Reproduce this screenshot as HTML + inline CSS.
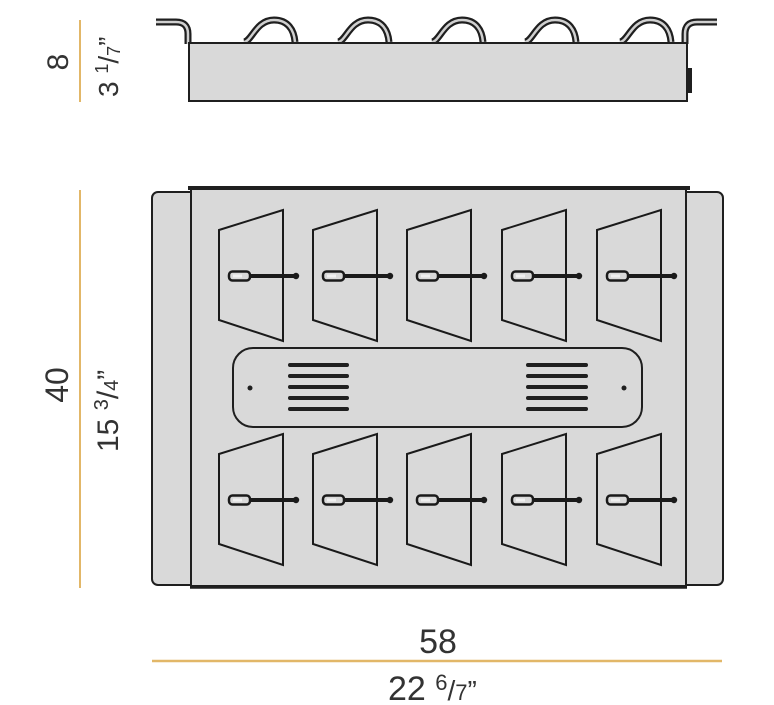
<!DOCTYPE html>
<html><head><meta charset="utf-8"><style>
html,body{margin:0;padding:0;background:#fff;width:774px;height:705px;overflow:hidden}
svg{display:block}
text{font-family:"Liberation Sans",sans-serif;fill:#333}
</style></head><body>
<svg width="774" height="705" viewBox="0 0 774 705" xmlns="http://www.w3.org/2000/svg">
<defs>
  <g id="trapT">
    <path d="M219 230 L283 210 L283 341 L219 320 Z" fill="none" stroke="#1a1a1a" stroke-width="2"/>
    <line x1="240" y1="276" x2="296" y2="276" stroke="#1a1a1a" stroke-width="4"/>
    <circle cx="296" cy="276" r="3.2" fill="#1a1a1a"/>
    <rect x="229" y="271.5" width="21" height="9" rx="3.5" fill="#d9d9d9" stroke="#1a1a1a" stroke-width="2.5"/>
    <rect x="233" y="274.5" width="9" height="3" fill="#f0f0f0"/>
  </g>
  <g id="loop">
    <path d="M-28 42 C-20 41,-16 20,2 20 C16 20,22 30,23 42" fill="none" stroke="#1f1f1f" stroke-width="7"/>
    <path d="M-28 42 C-20 41,-16 20,2 20 C16 20,22 30,23 42" fill="none" stroke="#d0d0d0" stroke-width="2.5"/>
  </g>
</defs>

<!-- dimension lines -->
<line x1="80" y1="20" x2="80" y2="102" stroke="#e2b768" stroke-width="2"/>
<line x1="80" y1="190" x2="80" y2="588" stroke="#e2b768" stroke-width="2"/>
<line x1="152" y1="661" x2="722" y2="661" stroke="#e2b768" stroke-width="2.5"/>

<!-- labels -->
<text transform="translate(68,62) rotate(-90)" font-size="30" text-anchor="middle">8</text>
<text transform="translate(118,97) rotate(-90)" font-size="28">3 <tspan font-size="18" dy="-10">1</tspan><tspan dy="10">/</tspan><tspan font-size="18" dy="2">7</tspan><tspan dy="-2">”</tspan></text>
<text transform="translate(68,385) rotate(-90)" font-size="32" text-anchor="middle">40</text>
<text transform="translate(118,452) rotate(-90)" font-size="30">15 <tspan font-size="20" dy="-10">3</tspan><tspan dy="10">/</tspan><tspan font-size="20" dy="0">4</tspan><tspan dy="0">”</tspan></text>
<text x="438" y="653" font-size="34" text-anchor="middle">58</text>
<text x="388" y="700" font-size="34">22 <tspan font-size="22" dy="-10">6</tspan><tspan dy="10" font-size="28">/</tspan><tspan font-size="22" dy="0">7</tspan><tspan font-size="28">”</tspan></text>

<!-- top view -->
<path d="M156 22 L176 22 Q188 22 188 34 L188 44" fill="none" stroke="#1f1f1f" stroke-width="7"/>
<path d="M156 22 L176 22 Q188 22 188 34 L188 44" fill="none" stroke="#d0d0d0" stroke-width="2.5"/>
<path d="M717 22 L697 22 Q685 22 685 34 L685 44" fill="none" stroke="#1f1f1f" stroke-width="7"/>
<path d="M717 22 L697 22 Q685 22 685 34 L685 44" fill="none" stroke="#d0d0d0" stroke-width="2.5"/>
<use href="#loop" transform="translate(272,0)"/>
<use href="#loop" transform="translate(366,0)"/>
<use href="#loop" transform="translate(460,0)"/>
<use href="#loop" transform="translate(553,0)"/>
<use href="#loop" transform="translate(648,0)"/>
<rect x="189" y="43" width="498" height="58" fill="#d9d9d9" stroke="#1f1f1f" stroke-width="2"/>
<rect x="687" y="68" width="5" height="25" fill="#1f1f1f"/>

<!-- front view -->
<rect x="152" y="192" width="571" height="393" rx="6" fill="#d9d9d9" stroke="#1f1f1f" stroke-width="2"/>
<rect x="191" y="189" width="495" height="397" fill="#d9d9d9" stroke="#1f1f1f" stroke-width="2"/>
<line x1="188" y1="188" x2="690" y2="188" stroke="#1f1f1f" stroke-width="4"/>
<line x1="190" y1="587" x2="687" y2="587" stroke="#1f1f1f" stroke-width="3.5"/>

<use href="#trapT"/>
<use href="#trapT" transform="translate(94,0)"/>
<use href="#trapT" transform="translate(188,0)"/>
<use href="#trapT" transform="translate(283,0)"/>
<use href="#trapT" transform="translate(378,0)"/>
<use href="#trapT" transform="translate(0,224)"/>
<use href="#trapT" transform="translate(94,224)"/>
<use href="#trapT" transform="translate(188,224)"/>
<use href="#trapT" transform="translate(283,224)"/>
<use href="#trapT" transform="translate(378,224)"/>

<rect x="233" y="348" width="409" height="79" rx="20" fill="#d9d9d9" stroke="#1f1f1f" stroke-width="2"/>
<circle cx="250" cy="388" r="2.5" fill="#1f1f1f"/>
<circle cx="624" cy="388" r="2.5" fill="#1f1f1f"/>
<g stroke="#1f1f1f" stroke-width="4" stroke-linecap="round">
  <line x1="290" y1="365" x2="347" y2="365"/><line x1="290" y1="376" x2="347" y2="376"/>
  <line x1="290" y1="387" x2="347" y2="387"/><line x1="290" y1="398" x2="347" y2="398"/>
  <line x1="290" y1="409" x2="347" y2="409"/>
  <line x1="528" y1="365" x2="586" y2="365"/><line x1="528" y1="376" x2="586" y2="376"/>
  <line x1="528" y1="387" x2="586" y2="387"/><line x1="528" y1="398" x2="586" y2="398"/>
  <line x1="528" y1="409" x2="586" y2="409"/>
</g>
</svg>
</body></html>
